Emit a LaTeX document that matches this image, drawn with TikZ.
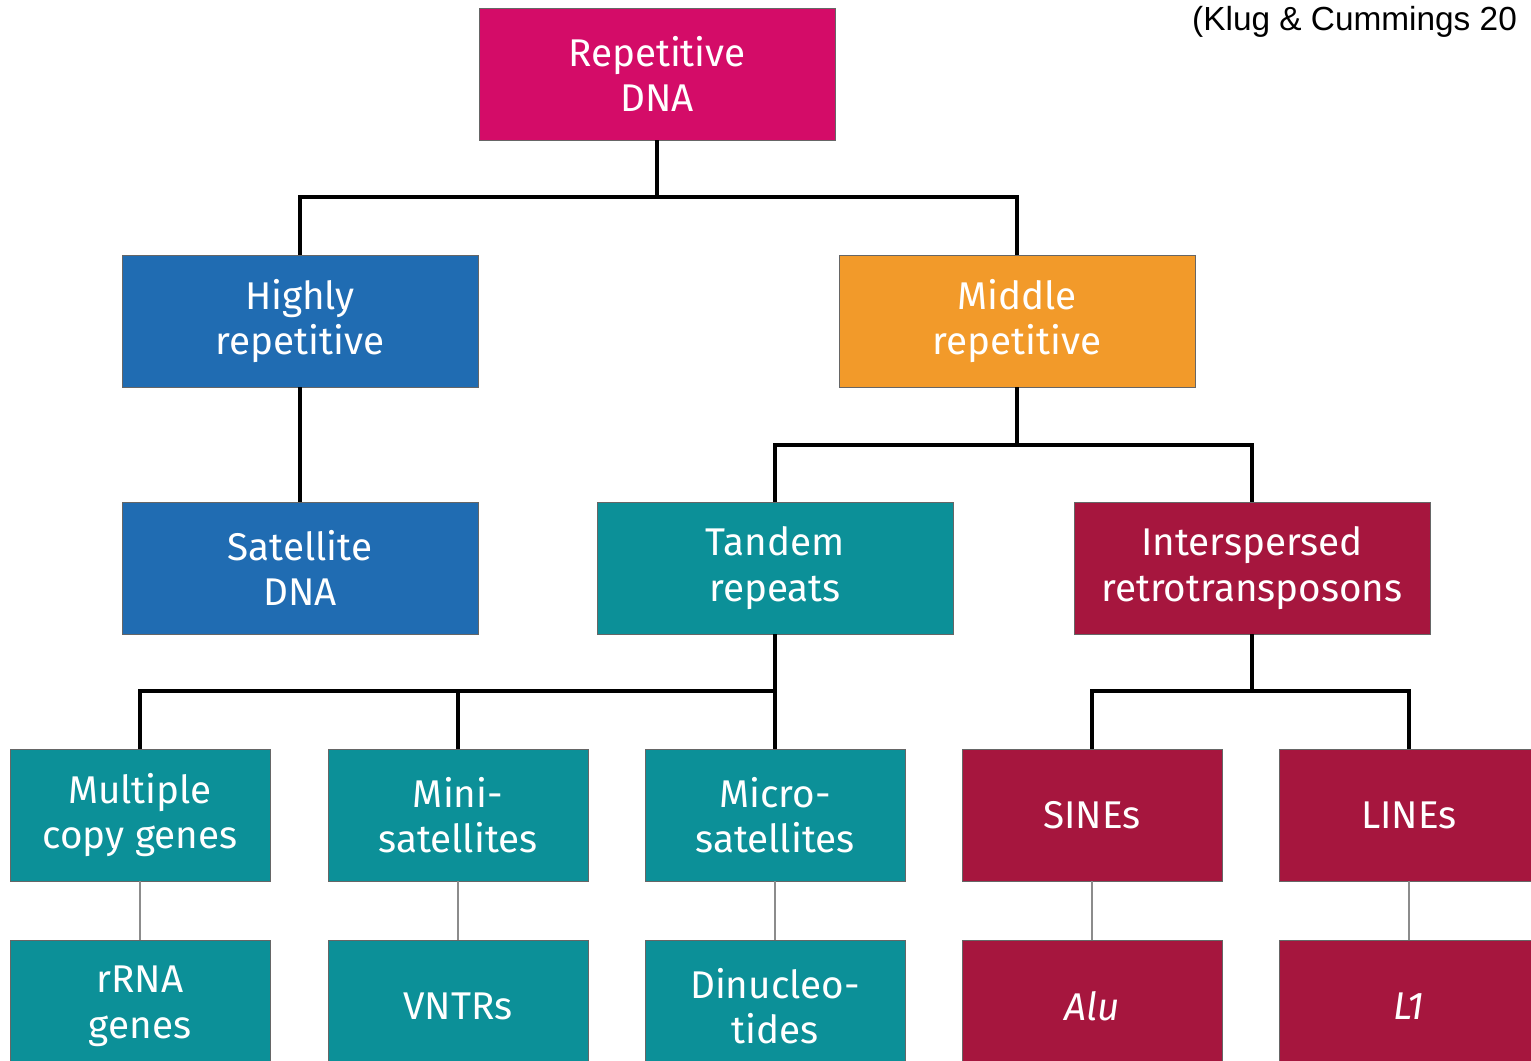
\documentclass[tikz,border=0pt]{standalone}
\usepackage{fontspec}
\setmainfont{Fira Sans}
\newfontfamily\citefont{Liberation Sans}
\usepackage{tikz}

\definecolor{repmagenta}{RGB}{212,12,104}
\definecolor{repblue}{RGB}{32,108,178}
\definecolor{reporange}{RGB}{242,154,42}
\definecolor{repteal}{RGB}{12,144,152}
\definecolor{repcrimson}{RGB}{166,22,62}

\begin{document}
\begin{tikzpicture}[x=0.02cm, y=-0.02cm,
    box/.style={draw=black!60, line width=0.5pt, text=white, align=center,
        minimum width=7.12cm, minimum height=2.64cm, inner sep=0pt,
        font=\fontsize{22}{26}\selectfont},
    smallbox/.style={box, minimum width=5.2cm},
    tree/.style={line width=2.3pt, black},
    link/.style={line width=1.1pt, black!45}]
                \useasboundingbox (0,0) rectangle (1531,1061);
                \clip (0,0) rectangle (1531,1061);

                \node[anchor=north west, font=\citefont\fontsize{19}{22}\selectfont] (cite) at (1186,0) {(Klug \& Cummings 20};

                % top levels
                \node[box, fill=repmagenta] (rep) at (657,74) {Repetitive\\DNA};
                \node[box, fill=repblue] (high) at (300,321) {Highly\\repetitive};
                \node[box, fill=reporange] (mid) at (1017,321) {Middle\\repetitive};
                \node[box, fill=repblue] (sat) at (300,568) {Satellite\\DNA};
                \node[box, fill=repteal] (tandem) at (775,568) {Tandem\\repeats};
                \node[box, fill=repcrimson] (inter) at (1252,568) {Interspersed\\retrotransposons};

                % third row
                \node[smallbox, fill=repteal] (multi) at (140,815) {Multiple\\copy genes};
                \node[smallbox, fill=repteal] (mini) at (458,815) {Mini-\\satellites};
                \node[smallbox, fill=repteal] (micro) at (775,815) {Micro-\\satellites};
                \node[smallbox, fill=repcrimson] (sines) at (1092,815) {SINEs};
                \node[smallbox, fill=repcrimson] (lines) at (1409,815) {LINEs};

                % examples
                \node[smallbox, fill=repteal] (rrna) at (140,1006) {rRNA\\genes};
                \node[smallbox, fill=repteal] (vntr) at (458,1006) {VNTRs};
                \node[smallbox, fill=repteal] (dinuc) at (775,1006) {Dinucleo-\\tides};
                \node[smallbox, fill=repcrimson] (alu) at (1092,1006) {\itshape Alu};
                \node[smallbox, fill=repcrimson] (lone) at (1409,1006) {\itshape L1};

                \draw[tree] (rep.south) -- ++(0,57) -| (high.north);
                \draw[tree] (rep.south) -- ++(0,57) -| (mid.north);
                \draw[tree] (high.south) -- (sat.north);
                \draw[tree] (mid.south) -- ++(0,58) -| (tandem.north);
                \draw[tree] (mid.south) -- ++(0,58) -| (inter.north);
                \draw[tree] (tandem.south) -- ++(0,57) -| (multi.north);
                \draw[tree] (tandem.south) -- ++(0,57) -| (mini.north);
                \draw[tree] (tandem.south) -- (micro.north);
                \draw[tree] (inter.south) -- ++(0,57) -| (sines.north);
                \draw[tree] (inter.south) -- ++(0,57) -| (lines.north);

                \draw[link] (multi.south) -- (rrna.north);
                \draw[link] (mini.south) -- (vntr.north);
                \draw[link] (micro.south) -- (dinuc.north);
                \draw[link] (sines.south) -- (alu.north);
                \draw[link] (lines.south) -- (lone.north);
\end{tikzpicture}
\end{document}
